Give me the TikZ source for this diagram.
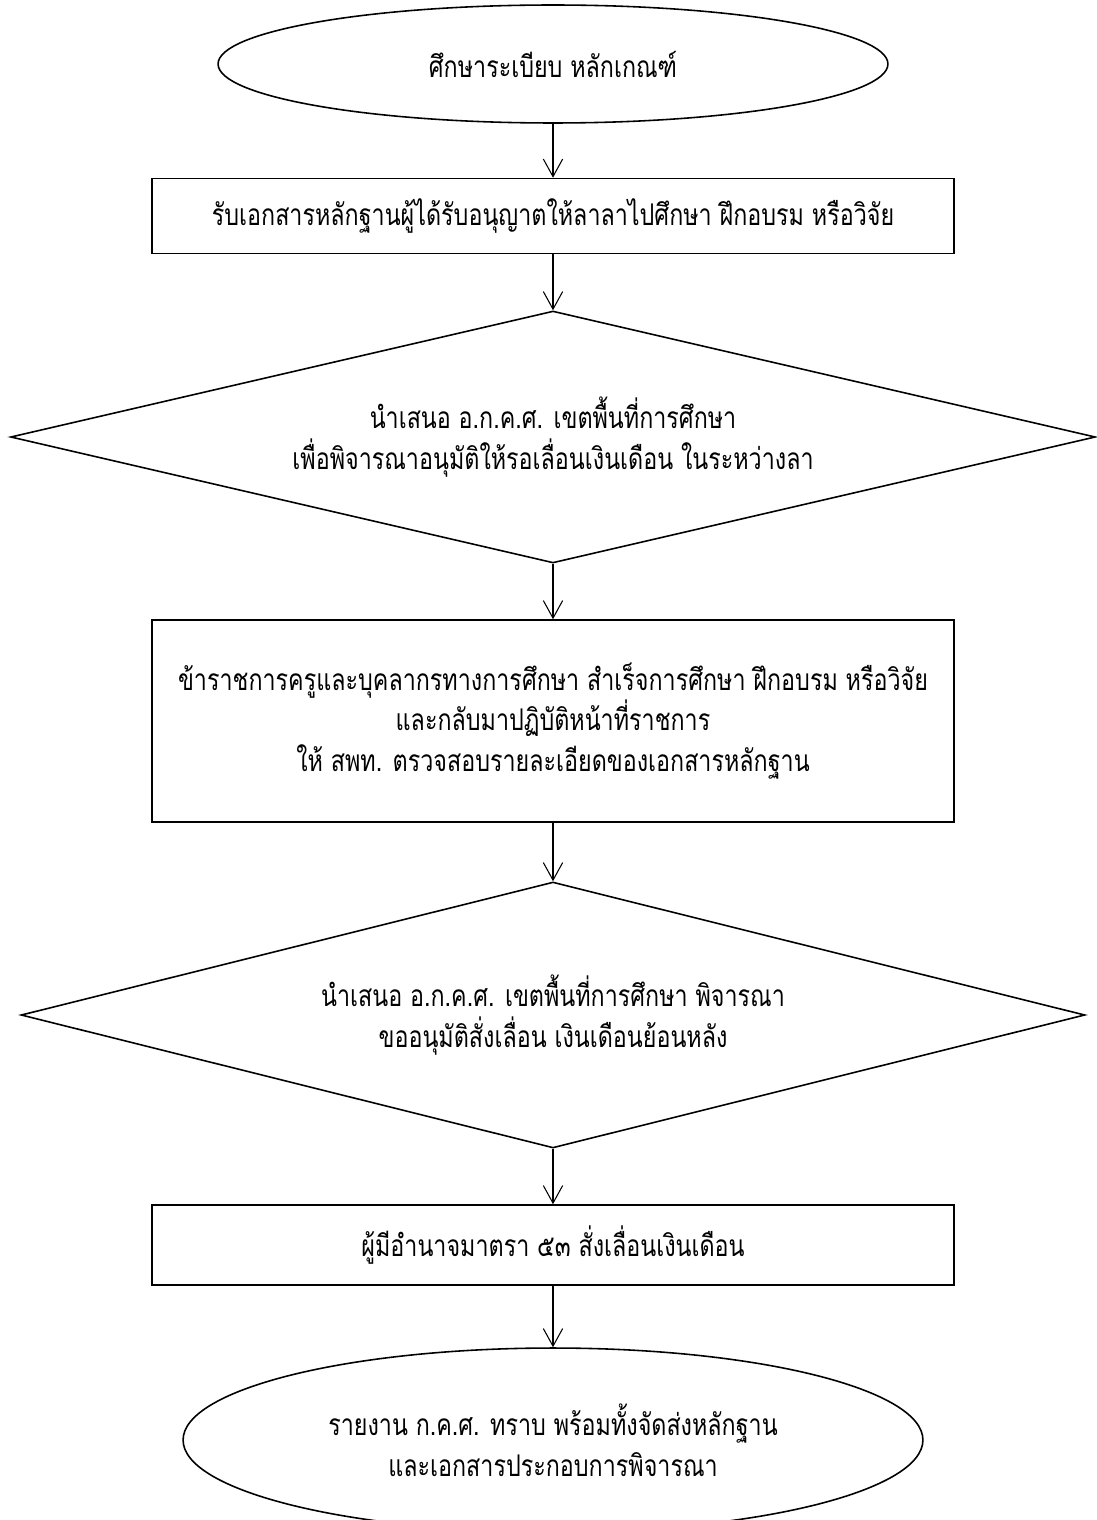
\documentclass[tikz,border=0pt]{standalone}
\usepackage{fontspec}
\usetikzlibrary{shapes.geometric,arrows.meta}
\newfontfamily\thaifont[Script=Thai,FakeStretch=0.78]{Loma}
\begin{document}
\begin{tikzpicture}[x=0.02cm,y=-0.02cm,
  every node/.style={font=\thaifont\fontsize{17}{23.2}\selectfont, align=center, inner sep=0pt},
  shapeline/.style={draw=black, line width=0.9pt},
  terminal/.style={shapeline, ellipse},
  process/.style={shapeline, rectangle, minimum width=16.04cm},
  decision/.style={shapeline, diamond},
  flow/.style={draw=black, line width=0.6pt, -{Straight Barb[length=10pt,width=11pt]}}
]
\useasboundingbox (0,0) rectangle (1097,1520);
\fill[white] (0,0) rectangle (1097,1520);

\node[terminal, minimum width=13.4cm, minimum height=2.36cm] (start) at (553,64)
  {ศึกษาระเบียบ หลักเกณฑ์};
\node[process, minimum height=1.5cm] (recv) at (553,216)
  {รับเอกสารหลักฐานผู้ได้รับอนุญาตให้ลาลาไปศึกษา ฝึกอบรม หรือวิจัย};
\node[decision, aspect=4.3, minimum width=21.7cm, minimum height=5.04cm] (dec1) at (553,437)
  {นำเสนอ อ.ก.ค.ศ. เขตพื้นที่การศึกษา\\เพื่อพิจารณาอนุมัติให้รอเลื่อนเงินเดือน ในระหว่างลา};
\node[process, minimum height=4.04cm] (check) at (553,721)
  {ข้าราชการครูและบุคลากรทางการศึกษา สำเร็จการศึกษา ฝึกอบรม หรือวิจัย\\และกลับมาปฏิบัติหน้าที่ราชการ\\ให้ สพท. ตรวจสอบรายละเอียดของเอกสารหลักฐาน};
\node[decision, aspect=4.0, minimum width=21.28cm, minimum height=5.32cm] (dec2) at (553,1015)
  {นำเสนอ อ.ก.ค.ศ. เขตพื้นที่การศึกษา พิจารณา\\ขออนุมัติสั่งเลื่อน เงินเดือนย้อนหลัง};
\node[process, minimum height=1.6cm] (order) at (553,1245)
  {ผู้มีอำนาจมาตรา ๕๓ สั่งเลื่อนเงินเดือน};
\node[terminal, minimum width=14.8cm, minimum height=3.68cm] (report) at (553,1440)
  {รายงาน ก.ค.ศ. ทราบ พร้อมทั้งจัดส่งหลักฐาน\\และเอกสารประกอบการพิจารณา};

\draw[flow] (start) -- (recv);
\draw[flow] (recv) -- (dec1);
\draw[flow] (dec1) -- (check);
\draw[flow] (check) -- (dec2);
\draw[flow] (dec2) -- (order);
\draw[flow] (order) -- (report);
\end{tikzpicture}
\end{document}
